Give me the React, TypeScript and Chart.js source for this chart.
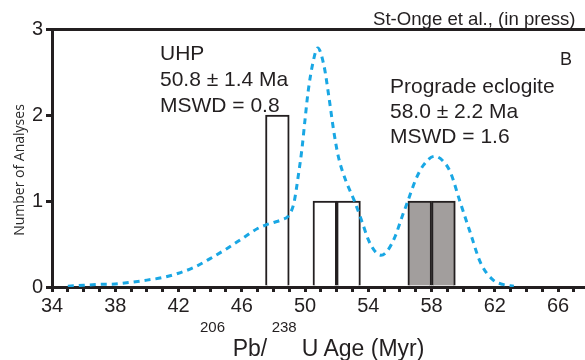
import { useEffect, useRef } from 'react';
import { Chart, registerables } from 'chart.js';

Chart.register(...registerables);

const FONT = "'Liberation Sans', Arial, Helvetica, sans-serif";
const INK = '#231f20';
const CURVE_COLOR = '#19a7e4';

// Histogram bins (Myr) — bin starts, width 1.5 Myr
const binWidth = 1.5;
const binStarts = [47.5, 50.5, 52.0, 56.5, 58.0];
const binCounts = [2, 1, 1, 1, 1];
const binGroups = ['UHP', 'UHP', 'UHP', 'Prograde', 'Prograde'];
const groupFill: Record<string, string> = { UHP: '#ffffff', Prograde: '#a29e9d' };

// Probability density curve (scaled to counts)
const curveAge = [35, 36, 37, 38, 39, 40, 41, 42, 43, 44, 45, 46, 47, 47.5, 48, 48.5, 49, 49.3, 49.6, 49.8, 50, 50.2, 50.5, 50.8, 51.2, 51.5, 51.8, 52.1, 52.55, 53.1, 53.6, 54, 54.4, 54.8, 55.2, 55.7, 56.1, 56.5, 57, 57.5, 58.2, 58.8, 59.2, 59.8, 60.45, 61.1, 61.9, 62.5, 63.2];
const curveValue = [0.01, 0.02, 0.03, 0.035, 0.055, 0.08, 0.11, 0.16, 0.23, 0.33, 0.44, 0.56, 0.68, 0.72, 0.75, 0.78, 0.84, 0.98, 1.33, 1.6, 1.95, 2.28, 2.61, 2.78, 2.57, 2.22, 1.83, 1.52, 1.25, 1.01, 0.76, 0.55, 0.42, 0.37, 0.42, 0.59, 0.8, 1.0, 1.25, 1.42, 1.52, 1.45, 1.33, 0.99, 0.63, 0.28, 0.08, 0.03, 0.01];

// Axes
const xMin = 34;
const xMax = 67.7;
const xTickLabels = [34, 38, 42, 46, 50, 54, 58, 62, 66];
const yMax = 3;

export default function App() {
  const ref = useRef<HTMLCanvasElement>(null);

  useEffect(() => {
    const canvas = ref.current;
    if (!canvas) return;
    const chart = new Chart(canvas, {
      type: 'bar',
      data: {
        datasets: [
          {
            type: 'bar',
            xAxisID: 'xb',
            yAxisID: 'y',
            data: binStarts.map((s, i) => ({ x: s + binWidth / 2, y: binCounts[i] })),
            backgroundColor: binGroups.map((g) => groupFill[g]),
            borderColor: INK,
            borderWidth: 2,
            borderSkipped: 'bottom',
            barPercentage: 1,
            categoryPercentage: 1,
            grouped: false,
            order: 1,
          } as any,
          {
            type: 'line',
            xAxisID: 'x',
            yAxisID: 'y',
            data: curveAge.map((x, i) => ({ x, y: curveValue[i] })),
            borderColor: CURVE_COLOR,
            borderWidth: 3,
            borderDash: [6, 5],
            pointRadius: 0,
            cubicInterpolationMode: 'monotone',
            fill: false,
            order: 0,
          } as any,
        ],
      },
      options: {
        responsive: false,
        animation: false,
        events: [],
        layout: { padding: { left: 0, right: 0, top: 29, bottom: 0 } },
        plugins: { legend: { display: false }, tooltip: { enabled: false }, title: { display: false } },
        scales: {
          x: {
            type: 'linear',
            position: 'bottom',
            offset: false,
            min: xMin,
            max: xMax,
            afterFit: (scale: any) => {
              scale.height = 73;
            },
            border: { display: true, color: INK, width: 3 },
            grid: {
              offset: false,
              drawOnChartArea: false,
              drawTicks: true,
              tickLength: 5,
              tickColor: INK,
              tickWidth: 3,
            },
            ticks: {
              stepSize: 1,
              includeBounds: false,
              autoSkip: false,
              maxRotation: 0,
              padding: 2,
              color: INK,
              font: { family: FONT, size: 20 },
              callback: (v: any) => (xTickLabels.includes(Number(v)) ? String(v) : ''),
            },
          },
          xb: {
            type: 'linear',
            position: 'top',
            offset: false,
            min: xMin,
            max: xMax,
            display: true,
            afterFit: (scale: any) => {
              scale.height = 0;
            },
            border: { display: false },
            grid: { display: false, drawTicks: false, offset: false },
            ticks: { display: false, stepSize: 10, includeBounds: false },
          },
          y: {
            min: 0,
            max: yMax,
            afterFit: (scale: any) => {
              scale.width = 52;
            },
            border: { display: true, color: INK, width: 3 },
            grid: {
              drawOnChartArea: true,
              color: (ctx: any) => (ctx.tick && ctx.tick.value === yMax ? INK : 'rgba(0,0,0,0)'),
              lineWidth: 3,
              tickLength: 6,
              tickColor: INK,
              tickWidth: 3,
            },
            ticks: {
              stepSize: 1,
              padding: 3,
              color: INK,
              font: { family: FONT, size: 20 },
            },
          },
        },
      },
    });
    return () => chart.destroy();
  }, []);

  const abs = (left: number, top: number, size: number, extra: any = {}) => ({
    position: 'absolute' as const,
    left,
    top,
    fontSize: size,
    lineHeight: 1,
    whiteSpace: 'nowrap' as const,
    ...extra,
  });

  return (
    <div
      style={{
        position: 'absolute',
        left: 0,
        top: 0,
        width: 585,
        height: 360,
        fontFamily: FONT,
        color: INK,
        background: '#ffffff',
        overflow: 'hidden',
      }}
    >
      <canvas ref={ref} width={585} height={360} style={{ position: 'absolute', left: 0, top: 0, width: 585, height: 360 }} />
      <div style={{ position: 'absolute', left: 0, top: 0, width: 585, height: 360, pointerEvents: 'none' }}>
        <div style={abs(373, 9.6, 18.6)}>St-Onge et al., (in press)</div>
        <div style={abs(560, 49.5, 18)}>B</div>
        <div style={abs(160, 39.8, 21, { lineHeight: '26px' })}>
          UHP
          <br />
          50.8 ± 1.4 Ma
          <br />
          MSWD = 0.8
        </div>
        <div style={abs(390, 73.3, 21, { lineHeight: '25px' })}>
          Prograde eclogite
          <br />
          58.0 ± 2.2 Ma
          <br />
          MSWD = 1.6
        </div>
        <div style={abs(200, 318.8, 15)}>206</div>
        <div style={abs(232.7, 337, 23)}>Pb/</div>
        <div style={abs(271.7, 318.8, 15)}>238</div>
        <div style={abs(301.7, 337, 23)}>U Age (Myr)</div>
        <div
          style={{
            position: 'absolute',
            left: 19 - 100,
            top: 169.5 - 8,
            width: 200,
            height: 16,
            lineHeight: '16px',
            fontSize: 14,
            fontFamily: "'Open Sans', 'Liberation Sans', Arial, sans-serif",
            textAlign: 'center',
            color: '#2b2b2b',
            transform: 'rotate(-90deg)',
            whiteSpace: 'nowrap',
          }}
        >
          Number of Analyses
        </div>
      </div>
    </div>
  );
}
